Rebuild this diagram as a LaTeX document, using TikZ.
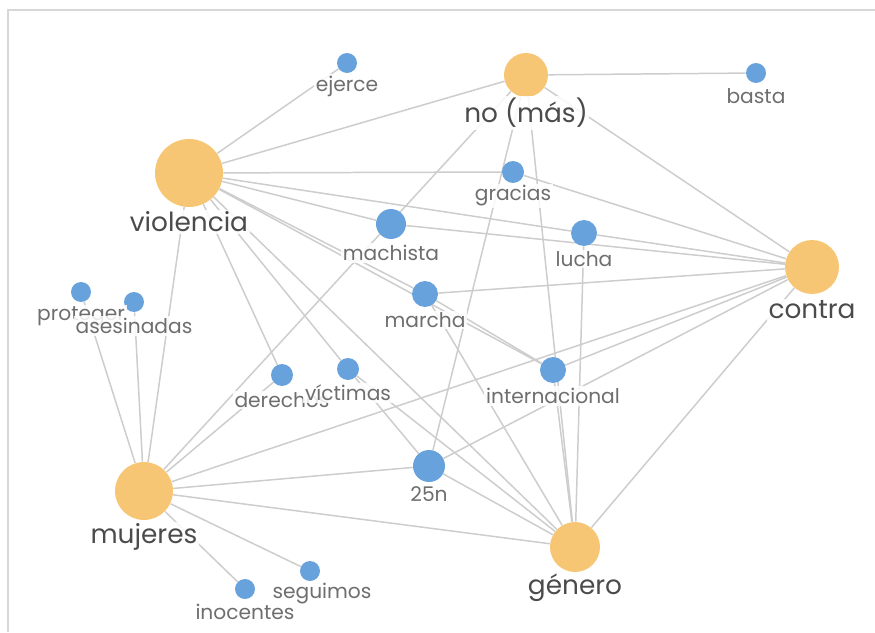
\documentclass[tikz,border=0pt]{standalone}
\usepackage{fontspec}
\setmainfont{Poppins}
\usetikzlibrary{backgrounds}
\definecolor{TermOrange}{RGB}{247,198,116}
\definecolor{TermBlue}{RGB}{104,162,220}
\definecolor{EdgeGray}{RGB}{205,205,205}
\definecolor{FrameGray}{RGB}{215,215,215}
\definecolor{MainText}{RGB}{75,75,75}
\definecolor{TermText}{RGB}{110,110,110}

\begin{document}
\begin{tikzpicture}[x=0.02cm,y=-0.02cm,
    main/.style={circle,fill=TermOrange,inner sep=0pt,minimum size=#1*0.04cm},
    term/.style={circle,fill=TermBlue,inner sep=0pt,minimum size=#1*0.04cm},
    mainlbl/.style={font=\fontsize{15}{16}\selectfont,text=MainText,
                    fill=white,fill opacity=0.85,text opacity=1,inner sep=1pt},
    termlbl/.style={font=\fontsize{11.5}{12}\selectfont,text=TermText,
                    fill=white,fill opacity=0.85,text opacity=1,inner sep=1pt},
    edge/.style={draw=EdgeGray,line width=0.85pt}]
    \useasboundingbox (0,0) rectangle (875,632);
    \draw[FrameGray,line width=0.8pt] (8,632) -- (8,10) -- (875,10);

    % main terms
    \node[main=34] (vio)     at (189,173) {};
    \node[main=22] (nomas)   at (526,75)  {};
    \node[main=27] (contra)  at (812,267) {};
    \node[main=29] (mujeres) at (144,491) {};
    \node[main=25] (genero)  at (575,547) {};

    % other terms
    \node[term=10] (ejerce)        at (347,63)  {};
    \node[term=10] (basta)         at (756,73)  {};
    \node[term=11] (gracias)       at (513,172) {};
    \node[term=15] (machista)      at (391,224) {};
    \node[term=13] (lucha)         at (584,233) {};
    \node[term=13] (marcha)        at (425,294) {};
    \node[term=10] (proteger)      at (81,292)  {};
    \node[term=10] (asesinadas)    at (134,302) {};
    \node[term=11] (derechos)      at (282,375) {};
    \node[term=11] (victimas)      at (348,369) {};
    \node[term=13] (internacional) at (553,370) {};
    \node[term=16] (n25)           at (429,466) {};
    \node[term=10] (seguimos)      at (310,571) {};
    \node[term=10] (inocentes)     at (245,589) {};

    \begin{scope}[on background layer]
      \foreach \a/\b in {vio/ejerce,vio/nomas,vio/gracias,vio/lucha,vio/machista,
                         vio/marcha,vio/internacional,vio/derechos,vio/victimas,
                         vio/genero,vio/mujeres,
                         nomas/basta,nomas/contra,nomas/n25,nomas/genero,
                         gracias/contra,lucha/contra,machista/contra,marcha/contra,
                         marcha/internacional,marcha/genero,
                         internacional/contra,internacional/genero,lucha/genero,
                         victimas/n25,victimas/genero,
                         n25/contra,n25/genero,contra/genero,
                         mujeres/proteger,mujeres/asesinadas,mujeres/nomas,
                         mujeres/derechos,mujeres/contra,mujeres/n25,
                         mujeres/genero,mujeres/seguimos,mujeres/inocentes}
        \draw[edge] (\a) -- (\b);
    \end{scope}

    % labels
    \node[mainlbl] (vio-l)     at (189,222) {violencia};
    \node[mainlbl] (nomas-l)   at (526,113) {no (más)};
    \node[mainlbl] (contra-l)  at (812,310) {contra};
    \node[mainlbl] (mujeres-l) at (144,537) {mujeres};
    \node[mainlbl] (genero-l)  at (575,588) {género};

    \node[termlbl] (ejerce-l)        at (347,86)  {ejerce};
    \node[termlbl] (basta-l)         at (756,96)  {basta};
    \node[termlbl] (gracias-l)       at (513,196) {gracias};
    \node[termlbl] (machista-l)      at (391,253) {machista};
    \node[termlbl] (lucha-l)         at (584,259) {lucha};
    \node[termlbl] (marcha-l)        at (425,320) {marcha};
    \node[termlbl] (proteger-l)      at (81,316)  {proteger};
    \node[termlbl] (asesinadas-l)    at (134,326) {asesinadas};
    \node[termlbl] (derechos-l)      at (282,400) {derechos};
    \node[termlbl] (victimas-l)      at (348,393) {víctimas};
    \node[termlbl] (internacional-l) at (553,396) {internacional};
    \node[termlbl] (n25-l)           at (429,494) {25n};
    \node[termlbl] (seguimos-l)      at (322,594) {seguimos};
    \node[termlbl] (inocentes-l)     at (245,612) {inocentes};
  \end{tikzpicture}
\end{document}
